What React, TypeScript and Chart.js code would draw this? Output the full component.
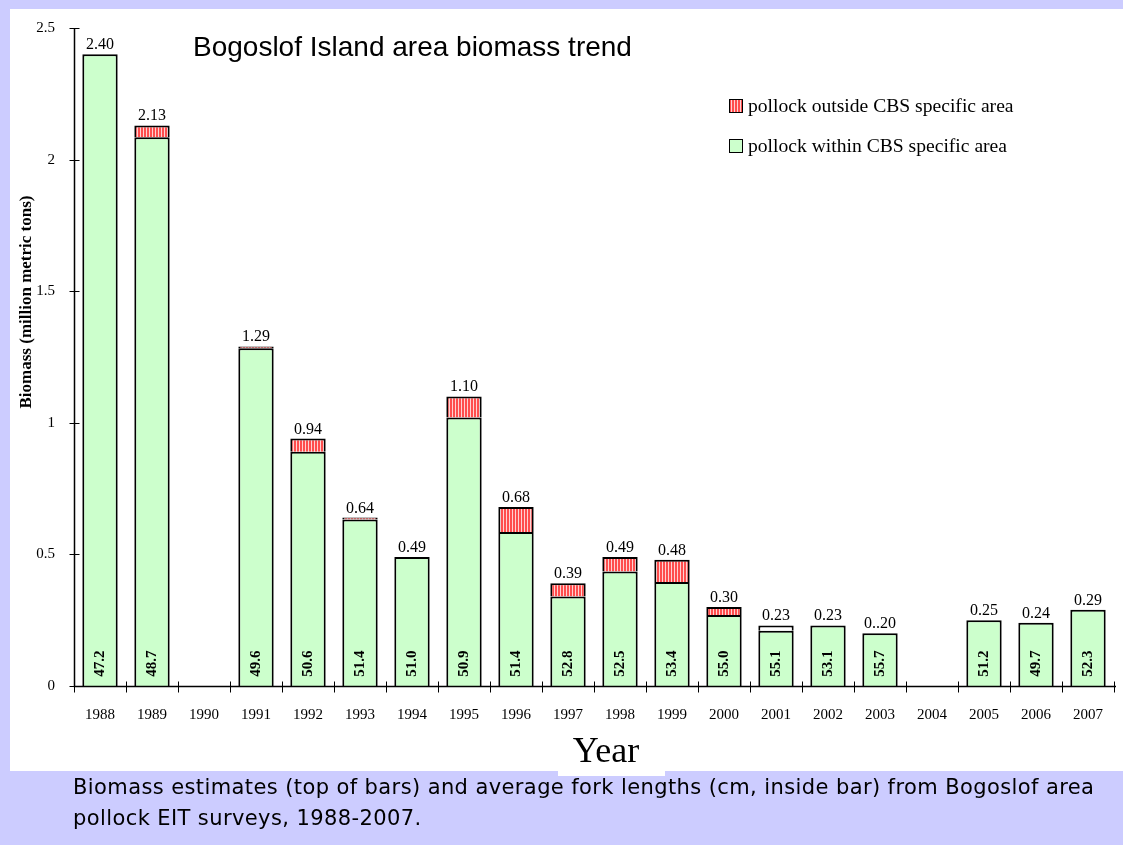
import React, { useEffect, useRef } from "react";
import { Chart, registerables } from "chart.js";

Chart.register(...registerables);

// Survey years on the category axis
const years = [
  "1988", "1989", "1990", "1991", "1992", "1993", "1994", "1995", "1996", "1997",
  "1998", "1999", "2000", "2001", "2002", "2003", "2004", "2005", "2006", "2007",
];

// Biomass (million metric tons) inside the CBS specific area
const withinCBS = [
  2.4, 2.085, null, 1.283, 0.89, 0.633, 0.49, 1.02, 0.585, 0.34,
  0.435, 0.395, 0.27, 0.21, 0.23, 0.2, null, 0.25, 0.24, 0.29,
];

// Biomass (million metric tons) outside the CBS specific area
const outsideCBS = [
  null, 0.045, null, 0.007, 0.05, 0.007, null, 0.08, 0.095, 0.05,
  0.055, 0.085, 0.03, 0.02, null, null, null, null, null, null,
];

// Years whose outside segment is left unshaded
const unshadedYears = ["2001"];

// Total biomass labels printed above the bars
const totalLabels = [
  "2.40", "2.13", "", "1.29", "0.94", "0.64", "0.49", "1.10", "0.68", "0.39",
  "0.49", "0.48", "0.30", "0.23", "0.23", "0..20", "", "0.25", "0.24", "0.29",
];

// Average fork length (cm) printed inside each bar
const forkLengths = [
  47.2, 48.7, null, 49.6, 50.6, 51.4, 51.0, 50.9, 51.4, 52.8,
  52.5, 53.4, 55.0, 55.1, 53.1, 55.7, null, 51.2, 49.7, 52.3,
];

const yTicks = [0, 0.5, 1, 1.5, 2, 2.5];

const SERIF = "'Liberation Serif', 'Times New Roman', serif";
const GREEN = "#ccffcc";

function makeStripes(): CanvasPattern | string {
  const c = document.createElement("canvas");
  c.width = 3;
  c.height = 4;
  const g = c.getContext("2d");
  if (!g) return "#ff5a5a";
  g.fillStyle = "#ff4d4d";
  g.fillRect(0, 0, 2, 4);
  g.fillStyle = "#ffd2d2";
  g.fillRect(2, 0, 1, 4);
  return g.createPattern(c, "repeat") || "#ff5a5a";
}

export default function App() {
  const canvasRef = useRef<HTMLCanvasElement | null>(null);

  useEffect(() => {
    document.body.style.margin = "0";
    const canvas = canvasRef.current;
    if (!canvas) return;
    const stripes = makeStripes();

    const decor = {
      id: "decor",
      afterDatasetsDraw(chart: any) {
        const ctx = chart.ctx as CanvasRenderingContext2D;
        const xs = chart.scales.x;
        const ys = chart.scales.y;
        ctx.save();
        ctx.fillStyle = "#000";

        // totals above bars
        ctx.font = `16px ${SERIF}`;
        ctx.textAlign = "center";
        ctx.textBaseline = "alphabetic";
        years.forEach((_, i) => {
          if (!totalLabels[i]) return;
          const total = (withinCBS[i] ?? 0) + (outsideCBS[i] ?? 0);
          ctx.fillText(totalLabels[i], xs.getPixelForValue(i), ys.getPixelForValue(total) - 5);
        });

        // fork lengths inside bars
        ctx.font = `bold 15px ${SERIF}`;
        ctx.textBaseline = "middle";
        forkLengths.forEach((v, i) => {
          if (v == null) return;
          ctx.save();
          ctx.translate(xs.getPixelForValue(i), ys.getPixelForValue(0) - 22.5);
          ctx.rotate(-Math.PI / 2);
          ctx.fillText(v.toFixed(1), 0, 0);
          ctx.restore();
        });
        ctx.restore();
      },
      afterDraw(chart: any) {
        const ctx = chart.ctx as CanvasRenderingContext2D;
        const ys = chart.scales.y;
        const area = chart.chartArea;
        ctx.save();
        ctx.strokeStyle = "#000";
        ctx.lineWidth = 1.5;

        // axis lines
        const ax = Math.round(area.left) + 0.5;
        const ay = Math.round(ys.getPixelForValue(0)) + 0.5;
        ctx.beginPath();
        ctx.moveTo(ax, Math.round(ys.getPixelForValue(2.5)));
        ctx.lineTo(ax, ay);
        ctx.lineTo(area.right + 2, ay);
        ctx.stroke();

        // crossing tick marks
        ctx.lineWidth = 1;
        ctx.beginPath();
        yTicks.forEach((t) => {
          const py = Math.round(ys.getPixelForValue(t)) + 0.5;
          ctx.moveTo(ax - 5, py);
          ctx.lineTo(ax + 5, py);
        });
        const step = (area.right - area.left) / years.length;
        for (let i = 0; i <= years.length; i++) {
          const px = Math.round(area.left + i * step) + 0.5;
          ctx.moveTo(px, ay - 5);
          ctx.lineTo(px, ay + 6);
        }
        ctx.stroke();

        // chart title
        ctx.fillStyle = "#000";
        ctx.font = "28px 'Liberation Sans', Arial, sans-serif";
        ctx.textAlign = "left";
        ctx.textBaseline = "alphabetic";
        ctx.fillText("Bogoslof Island area biomass trend", 193, 56);

        // y-axis title
        ctx.save();
        ctx.translate(27, 302);
        ctx.rotate(-Math.PI / 2);
        ctx.font = `bold 17px ${SERIF}`;
        ctx.textAlign = "center";
        ctx.textBaseline = "middle";
        ctx.fillText("Biomass (million metric tons)", 0, 0);
        ctx.restore();

        // x-axis title
        ctx.font = `36px ${SERIF}`;
        ctx.textAlign = "center";
        ctx.fillText("Year", 606, 762);

        // legend
        const items = [
          { label: chart.data.datasets[1].label, fill: stripes, y: 99.5 },
          { label: chart.data.datasets[0].label, fill: GREEN, y: 139.5 },
        ];
        ctx.font = `19.6px ${SERIF}`;
        ctx.textAlign = "left";
        items.forEach((it) => {
          ctx.fillStyle = it.fill as any;
          ctx.fillRect(729.5, it.y, 13, 13);
          ctx.strokeStyle = "#000";
          ctx.lineWidth = 1;
          ctx.strokeRect(729.5, it.y, 13, 13);
          ctx.fillStyle = "#000";
          ctx.fillText(it.label, 748, it.y + 12);
        });
        ctx.restore();
      },
    };

    const chart = new Chart(canvas, {
      type: "bar",
      data: {
        labels: years,
        datasets: [
          {
            label: "pollock within CBS specific area",
            data: withinCBS as any,
            backgroundColor: GREEN,
            borderColor: "#000",
            borderWidth: 2,
            barPercentage: 0.68,
            categoryPercentage: 1,
          },
          {
            label: "pollock outside CBS specific area",
            data: outsideCBS as any,
            backgroundColor: years.map((y) => (unshadedYears.includes(y) ? "#ffffff" : stripes)) as any,
            borderColor: "#000",
            borderWidth: 2,
            barPercentage: 0.68,
            categoryPercentage: 1,
          },
        ],
      },
      options: {
        responsive: false,
        animation: false,
        layout: { padding: { left: 0, right: 0, top: 23, bottom: 0 } },
        plugins: { legend: { display: false }, tooltip: { enabled: false } },
        scales: {
          x: {
            stacked: true,
            offset: true,
            grid: { display: false, drawTicks: false },
            border: { display: false },
            ticks: {
              color: "#000",
              font: { family: SERIF, size: 15 },
              padding: 20,
              maxRotation: 0,
              autoSkip: false,
            },
            afterFit: (s: any) => {
              s.height = 159;
            },
          },
          y: {
            stacked: true,
            min: 0,
            max: 2.5,
            grid: { display: false, drawTicks: false },
            border: { display: false },
            ticks: {
              stepSize: 0.5,
              color: "#000",
              font: { family: SERIF, size: 15 },
              padding: 19,
              callback: (v: any) => String(Number(v)),
            },
            afterFit: (s: any) => {
              s.width = 74;
            },
          },
        },
      },
      plugins: [decor],
    });

    return () => chart.destroy();
  }, []);

  return (
    <div
      style={{
        position: "relative",
        width: 1123,
        height: 845,
        background: "#ccccff",
        overflow: "hidden",
      }}
    >
      <div style={{ position: "absolute", left: 10, top: 9, right: 0, height: 762, background: "#fff" }} />
      <div style={{ position: "absolute", left: 558, top: 760, width: 107, height: 16, background: "#fff" }} />
      <canvas
        ref={canvasRef}
        width={1123}
        height={845}
        style={{ position: "absolute", left: 0, top: 0, width: 1123, height: 845 }}
      />
      <div
        style={{
          position: "absolute",
          left: 73,
          top: 772,
          fontFamily: "'DejaVu Sans', Verdana, sans-serif",
          fontSize: 21,
          letterSpacing: "0.4px",
          lineHeight: "31px",
          color: "#000",
          whiteSpace: "nowrap",
        }}
      >
        Biomass estimates (top of bars) and average fork lengths (cm, inside bar) from Bogoslof area
        <br />
        pollock EIT surveys, 1988-2007.
      </div>
    </div>
  );
}
